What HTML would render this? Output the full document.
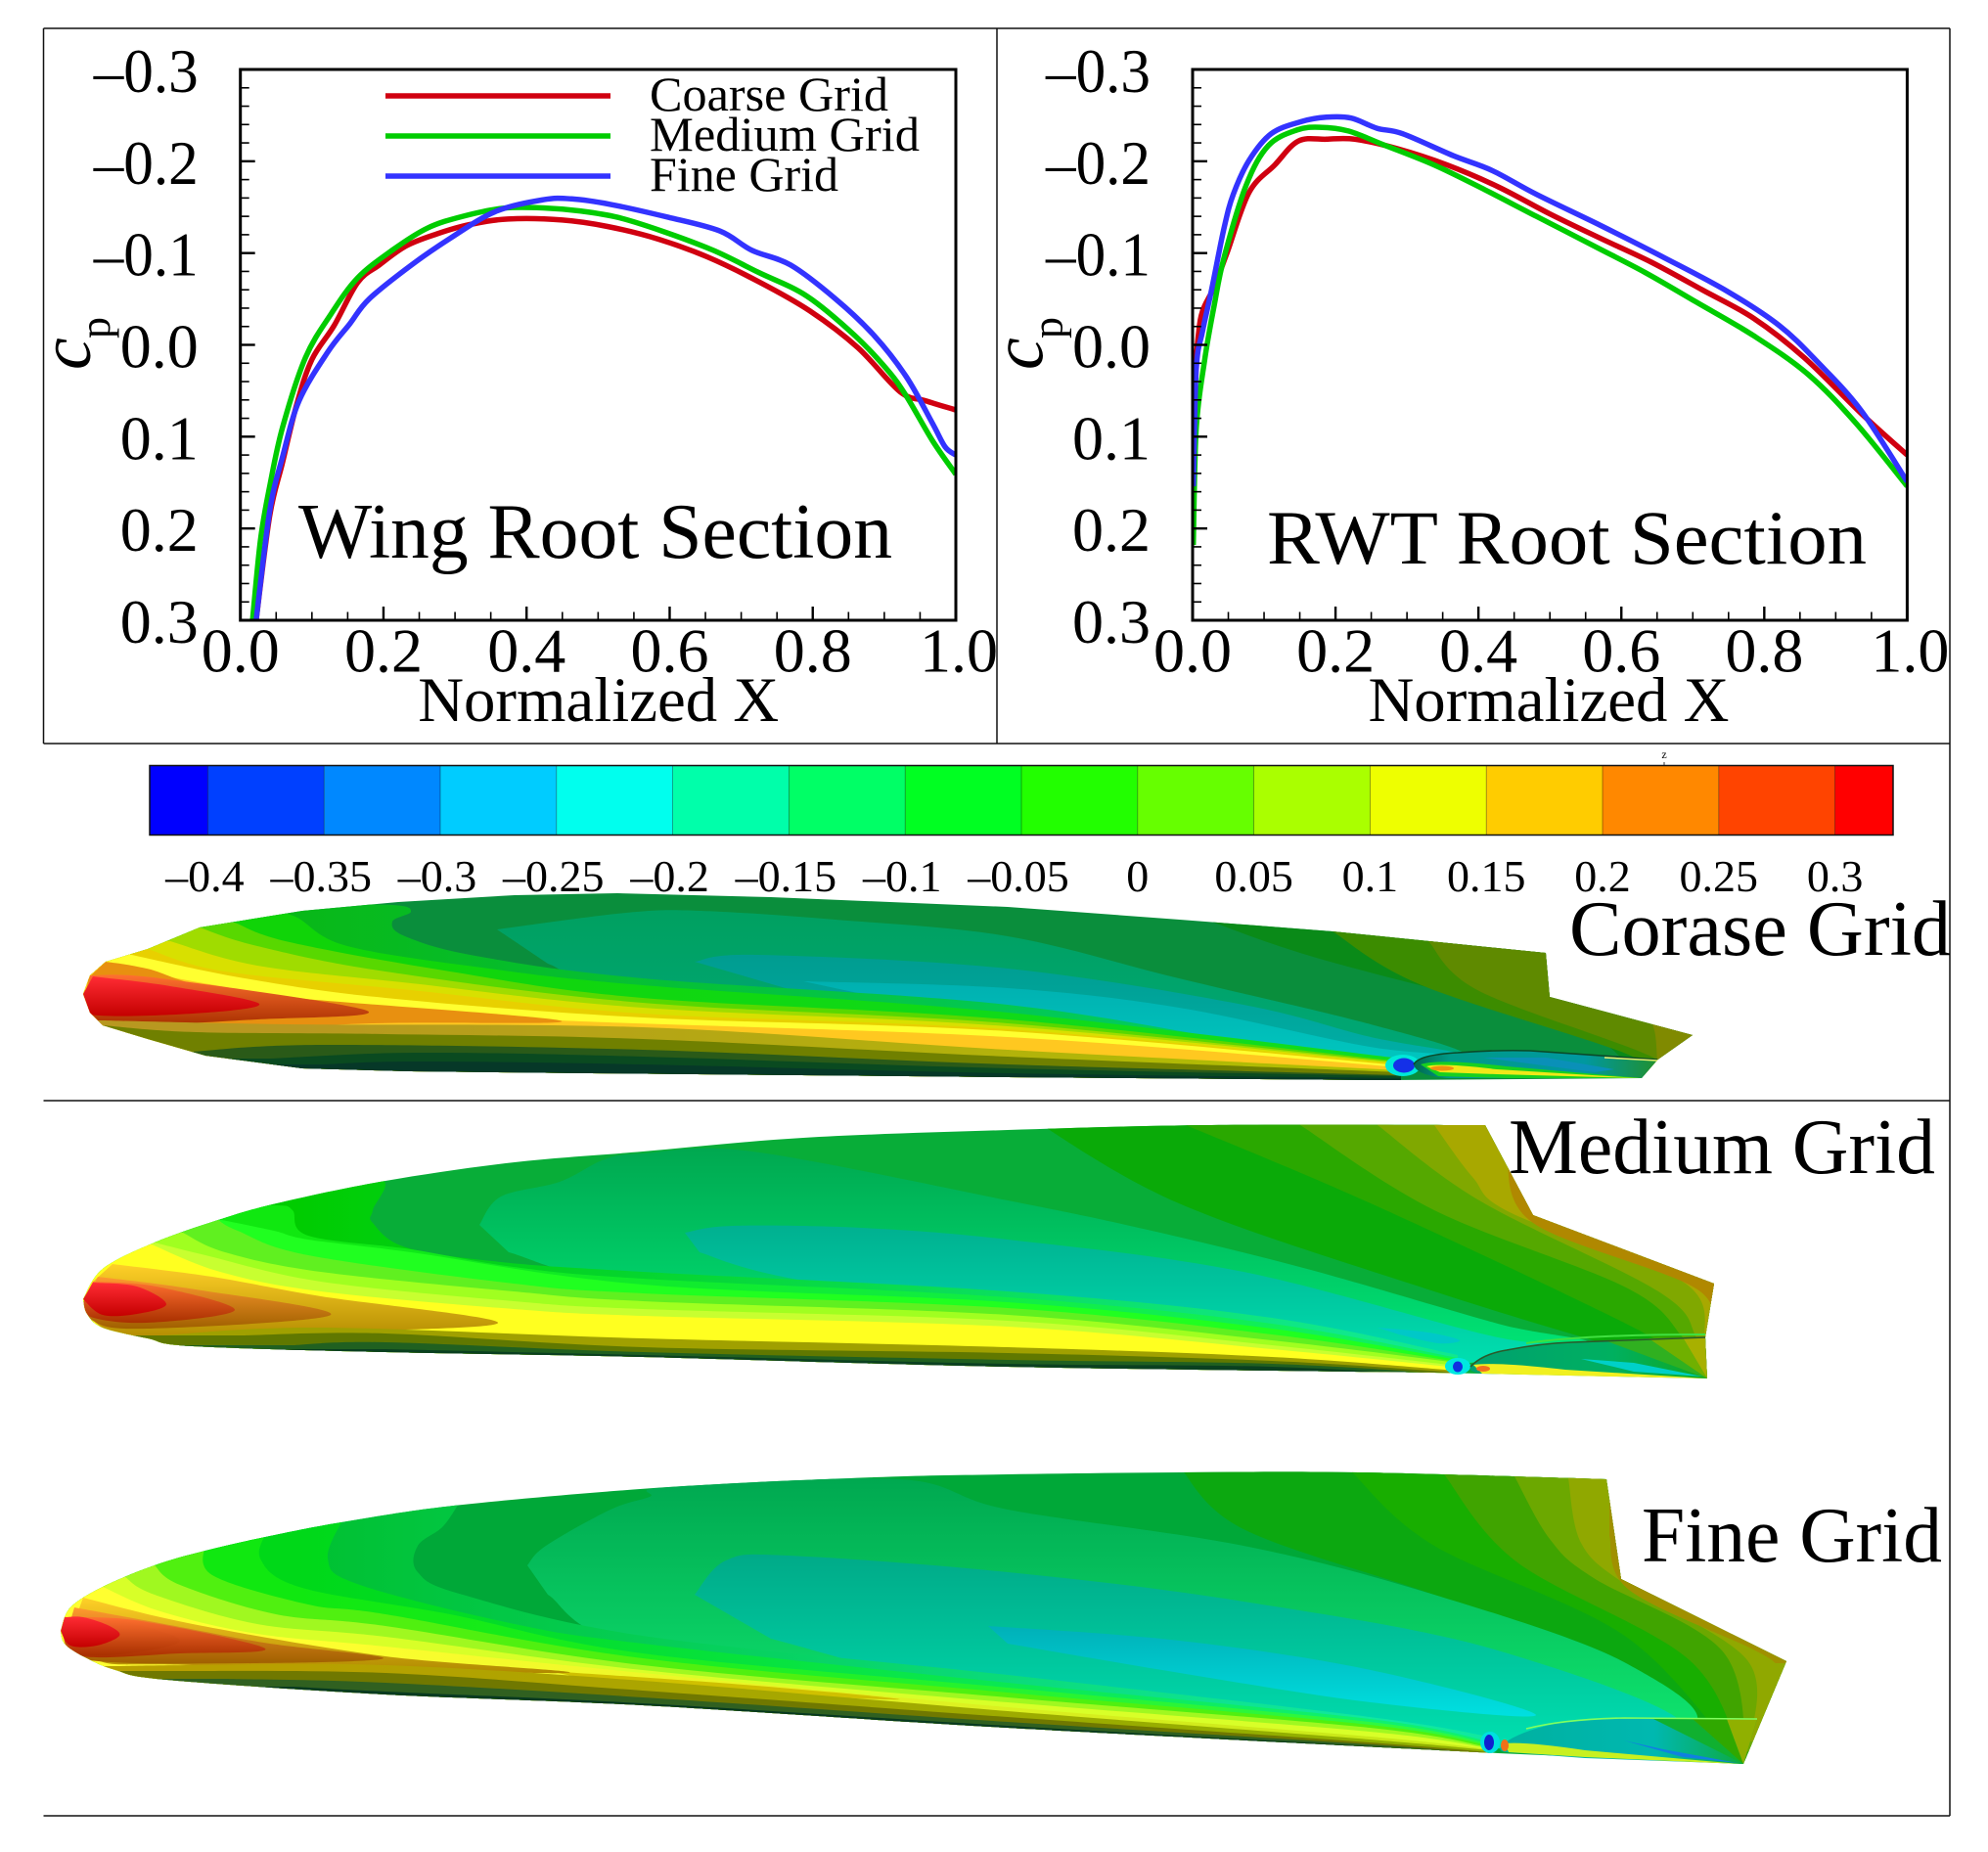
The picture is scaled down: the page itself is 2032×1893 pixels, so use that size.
<!DOCTYPE html>
<html lang="en">
<head>
<meta charset="utf-8">
<title>Wing pressure comparison across grids</title>
<style>
html,body{margin:0;padding:0;background:#fff;width:2032px;height:1893px;overflow:hidden;}
svg{display:block;}
text{font-family:"Liberation Serif",serif;fill:#000;}
</style>
</head>
<body>
<svg id="figure" xmlns="http://www.w3.org/2000/svg" width="2032" height="1893" viewBox="0 0 2032 1893">
<defs id="figureDefs">
<linearGradient id="gRed" x1="0" y1="0" x2="0" y2="1"><stop offset="0" stop-color="#ff2c34"/><stop offset="1" stop-color="#c40000"/></linearGradient>
<linearGradient id="gOr1" x1="0" y1="0" x2="0" y2="1"><stop offset="0" stop-color="#ff7030"/><stop offset="1" stop-color="#a83000"/></linearGradient>
<linearGradient id="gOr2" x1="0" y1="0" x2="0" y2="1"><stop offset="0" stop-color="#ff9a30"/><stop offset="1" stop-color="#a06000"/></linearGradient>
<linearGradient id="gOr3" x1="0" y1="0" x2="0" y2="1"><stop offset="0" stop-color="#ffd028"/><stop offset="1" stop-color="#b08a00"/></linearGradient>
<linearGradient id="gPodC" x1="0" y1="0" x2="1" y2="0"><stop offset="0" stop-color="#006a50"/><stop offset=".15" stop-color="#009a88"/><stop offset=".7" stop-color="#0098a0"/><stop offset="1" stop-color="#209030"/></linearGradient>
<linearGradient id="gPodM" x1="0" y1="0" x2="1" y2="0"><stop offset="0" stop-color="#00a070"/><stop offset=".6" stop-color="#00b060"/><stop offset="1" stop-color="#10a820"/></linearGradient>
<linearGradient id="gPodF" x1="0" y1="0" x2="1" y2="0"><stop offset="0" stop-color="#00b0a0"/><stop offset=".6" stop-color="#00b8b0"/><stop offset="1" stop-color="#10a830"/></linearGradient>
</defs>
<rect x="0" y="0" width="2032" height="1893" fill="#fff"/>

<g id="wingCoarse"></g>
<g>
  <ellipse cx="1434" cy="1089" rx="18" ry="11" fill="#00e8d8"/>
  <ellipse cx="1435" cy="1089" rx="11" ry="7.5" fill="#1430e8"/>
  <path d="M1445,1088 Q1450,1078 1490,1076 Q1530,1073 1564,1074 L1694,1083 L1678,1102 L1479,1102 Q1447,1099 1445,1088 Z" fill="url(#gPodC)"/>
  <path d="M1516,1081 L1580,1081 L1650,1093 L1630,1096 Z" fill="#0a90b8"/>
  <path d="M1452,1088 Q1470,1082 1540,1090 L1678,1102 L1540,1102 L1470,1100 Z" fill="#18d020"/>
  <path d="M1458,1090 Q1470,1086 1530,1093 L1676,1102 L1530,1098 L1472,1096 Z" fill="#f0e818"/>
  <ellipse cx="1474" cy="1092" rx="12" ry="2.5" fill="#f09010"/>
  <path d="M1445,1088 Q1450,1078 1490,1076 Q1530,1073 1564,1074 L1694,1083" fill="none" stroke="#0a4a28" stroke-width="1.6"/>
  <path d="M1640,1081 L1694,1084" fill="none" stroke="#e8f070" stroke-width="1.5"/>
</g>

<g id="wingMedium"></g>
<g>
  <ellipse cx="1490" cy="1396.5" rx="13" ry="8.5" fill="#00e8e0"/>
  <ellipse cx="1490" cy="1397" rx="5" ry="5.5" fill="#1030e0"/>
  <path d="M1503,1397 Q1515,1384 1540,1380 Q1575,1373 1607,1372 L1743,1367 L1745,1409 L1620,1405 L1515,1404 Q1500,1402 1503,1397 Z" fill="url(#gPodM)"/>
  <path d="M1745,1409 L1640,1370 L1685,1368 Z" fill="#30b020"/>
  <path d="M1745,1409 L1685,1368 L1720,1367 Z" fill="#70b000"/>
  <path d="M1745,1409 L1720,1367 L1743,1367 Z" fill="#a8b000"/>
  <path d="M1616,1389 L1670,1393 L1740,1407 L1670,1402 Z" fill="#00d0c8"/>
  <path d="M1506,1395 Q1530,1392 1600,1400 L1745,1409 L1600,1406 L1515,1404 Z" fill="#f0f020"/>
  <ellipse cx="1516" cy="1399" rx="7" ry="3" fill="#f07020"/>
  <path d="M1560,1373 Q1620,1364 1743,1364" fill="none" stroke="#40e040" stroke-width="2"/>
  <path d="M1503,1397 Q1515,1384 1540,1380 Q1575,1373 1607,1372 L1743,1367" fill="none" stroke="#2a5a2a" stroke-width="1.6"/>
</g>

<g id="wingFine"></g>
<g>
  <ellipse cx="1523" cy="1781" rx="10" ry="11" fill="#00e0e0"/>
  <ellipse cx="1522" cy="1781" rx="5" ry="8" fill="#1020d0"/>
  <path d="M1535,1784 Q1550,1770 1597,1760 Q1640,1755 1796,1757 L1782,1803 L1620,1797 L1540,1791 Q1530,1790 1535,1784 Z" fill="url(#gPodF)"/>
  <path d="M1782,1803 L1690,1757 L1730,1757 Z" fill="#10b030"/>
  <path d="M1782,1803 L1730,1757 L1765,1757 Z" fill="#30a800"/>
  <path d="M1782,1803 L1765,1757 L1796,1757 Z" fill="#90b000"/>
  <path d="M1538,1782 Q1560,1780 1620,1789 L1778,1803 L1620,1796 L1542,1791 Z" fill="#c8f020"/>
  <path d="M1660,1779 L1700,1788 L1776,1802 L1720,1796 Z" fill="#1080e0"/>
  <ellipse cx="1538" cy="1784" rx="4" ry="6" fill="#f07018"/>
  <path d="M1560,1767 Q1600,1757 1660,1756 L1796,1757" fill="none" stroke="#80ff60" stroke-width="1.6"/>
</g>

<g stroke="#111" stroke-width="1.5">
  <line x1="44.5" y1="29" x2="1993" y2="29"/>
  <line x1="44.5" y1="29" x2="44.5" y2="760"/>
  <line x1="1019" y1="29" x2="1019" y2="760"/>
  <line x1="1993" y1="29" x2="1993" y2="1856"/>
  <line x1="44.5" y1="760" x2="1993" y2="760"/>
  <line x1="44.5" y1="1125" x2="1993" y2="1125"/>
  <line x1="44.5" y1="1856" x2="1993" y2="1856"/>
</g>

<g id="chartLeft"></g>
<g id="chartRight"></g>
<g id="colorbar"></g>

<g>
  <line x1="394" y1="98" x2="624" y2="98" stroke="#d00010" stroke-width="5.5"/>
  <line x1="394" y1="139" x2="624" y2="139" stroke="#00cc00" stroke-width="5.5"/>
  <line x1="394" y1="180" x2="624" y2="180" stroke="#3333ff" stroke-width="5.5"/>
  <text x="664" y="113" font-size="50" textLength="244" lengthAdjust="spacingAndGlyphs">Coarse Grid</text>
  <text x="664" y="154" font-size="50" textLength="276" lengthAdjust="spacingAndGlyphs">Medium Grid</text>
  <text x="664" y="195" font-size="50" textLength="193" lengthAdjust="spacingAndGlyphs">Fine Grid</text>
</g>

<text x="305" y="570" font-size="80" textLength="607" lengthAdjust="spacingAndGlyphs">Wing Root Section</text>
<text x="1295" y="576" font-size="78" textLength="613" lengthAdjust="spacingAndGlyphs">RWT Root Section</text>
<text x="1604" y="976" font-size="81" textLength="390" lengthAdjust="spacingAndGlyphs">Corase Grid</text>
<text x="1542" y="1199" font-size="81" textLength="436" lengthAdjust="spacingAndGlyphs">Medium Grid</text>
<text x="1678" y="1596" font-size="81" textLength="307" lengthAdjust="spacingAndGlyphs">Fine Grid</text>
</svg>

<script>
// ---- Chart data: Wing Root Section ----
const wingCoarseX=[.022,.041,.059,.079,.100,.131,.164,.194,.232,.275,.320,.374,.450,.513,.585,.652,.724,.796,.863,.922,.958,1.0];
const wingCoarseCp=[.300,.186,.128,.064,.016,-.021,-.068,-.087,-.108,-.121,-.131,-.137,-.136,-.129,-.115,-.096,-.069,-.037,.003,.051,.061,.071];
const wingMediumX=[.017,.028,.041,.059,.091,.127,.164,.212,.261,.311,.369,.428,.473,.527,.589,.661,.724,.792,.859,.904,.931,.967,1.0];
const wingMediumCp=[.300,.213,.154,.090,.014,-.034,-.073,-.103,-.127,-.140,-.149,-.149,-.146,-.139,-.124,-.103,-.079,-.053,-.010,.027,.056,.104,.141];
const wingFineX=[.022,.041,.059,.082,.122,.153,.180,.239,.293,.356,.423,.463,.517,.598,.670,.715,.769,.832,.886,.931,.967,.985,1.0];
const wingFineCp=[.300,.181,.122,.061,.008,-.023,-.050,-.087,-.116,-.145,-.158,-.159,-.153,-.139,-.124,-.103,-.087,-.050,-.010,.035,.085,.111,.120];
// ---- Chart data: RWT Root Section ----
const rwtCoarseX=[.002,.008,.014,.030,.048,.079,.115,.148,.187,.227,.285,.356,.428,.499,.571,.642,.713,.785,.856,.936,1.0];
const rwtCoarseCp=[.043,-.010,-.037,-.063,-.100,-.166,-.196,-.222,-.224,-.224,-.214,-.196,-.172,-.143,-.116,-.090,-.060,-.029,.014,.075,.120];
const rwtMediumX=[.001,.005,.017,.030,.044,.075,.106,.146,.178,.218,.267,.338,.409,.481,.561,.633,.704,.785,.861,.928,1.0];
const rwtMediumCp=[.218,.091,.016,-.042,-.095,-.174,-.217,-.234,-.237,-.233,-.218,-.196,-.169,-.140,-.108,-.079,-.047,-.010,.032,.085,.154];
const rwtFineX=[.001,.005,.014,.026,.044,.057,.079,.110,.151,.187,.222,.258,.294,.365,.419,.481,.571,.660,.749,.821,.875,.936,1.0];
const rwtFineCp=[.154,.027,-.015,-.058,-.127,-.164,-.201,-.230,-.243,-.248,-.247,-.236,-.230,-.206,-.190,-.164,-.130,-.095,-.058,-.021,.019,.072,.149];
// ---- Axis ticks ----
const xTickValues=[0,.2,.4,.6,.8,1];
const xTickLabels=["0.0","0.2","0.4","0.6","0.8","1.0"];
const yTickValues=[-.3,-.2,-.1,0,.1,.2,.3];
const yTickLabels=["–0.3","–0.2","–0.1","0.0","0.1","0.2","0.3"];
// ---- Colour bar ----
const colorbarLevels=[-.4,-.35,-.3,-.25,-.2,-.15,-.1,-.05,0,.05,.1,.15,.2,.25,.3];
const colorbarLabels=["–0.4","–0.35","–0.3","–0.25","–0.2","–0.15","–0.1","–0.05","0","0.05","0.1","0.15","0.2","0.25","0.3"];
const colorbarColors=["#0000ff","#0040ff","#0088ff","#00ccff","#00ffee","#00ffaa","#00ff66","#00ff22","#22ff00","#66ff00","#aaff00","#eeff00","#ffcc00","#ff8800","#ff4400","#ff0000"];

const NS="http://www.w3.org/2000/svg";
function mk(parent,tag,attrs){
  const el=document.createElementNS(NS,tag);
  for(const k in attrs){el.setAttribute(k,attrs[k]);}
  parent.appendChild(el);
  return el;
}
function smooth(p){
  let d='';
  for(let i=0;i<p.length-1;i++){
    const a=p[Math.max(i-1,0)],b=p[i],c=p[i+1],e=p[Math.min(i+2,p.length-1)];
    d+='C'+(b[0]+(c[0]-a[0])/6).toFixed(1)+','+(b[1]+(c[1]-a[1])/6).toFixed(1)+' '+(c[0]-(e[0]-b[0])/6).toFixed(1)+','+(c[1]-(e[1]-b[1])/6).toFixed(1)+' '+c[0]+','+c[1];
  }
  return d;
}
function yScale(v){return 71+(v+.3)/.6*563;}

function drawChart(g,left,width,prefix,titleOffset,series){
  const xScale=v=>left+v*width;
  const clipId=prefix+'-clip';
  const clip=mk(g,'clipPath',{id:clipId});
  
  
  const cr=mk(clip,'rect',{x:left,y:71,width:width,height:563});
  
  
  series.forEach(s=>{
    const pts=s.x.map((v,i)=>[+xScale(v).toFixed(1),+yScale(s.y[i]).toFixed(1)]);
    const line=mk(g,'path',{d:'M'+pts[0][0]+','+pts[0][1]+smooth(pts),fill:'none',stroke:s.color,'stroke-width':5.5,'stroke-linejoin':'round','clip-path':'url(#'+clipId+')'});
    
    
  });
  const frame=mk(g,'rect',{x:left,y:71,width:width,height:563,fill:'none',stroke:'#000','stroke-width':3});
  
  
  for(let i=0;i<=20;i++){
    const major=i%4===0;
    const px=xScale(i*.05);
    const t=mk(g,'line',{x1:px,x2:px,y1:634,y2:major?620:625.5,stroke:'#000','stroke-width':major?2.4:1.6});
    
    
  }
  for(let i=0;i<=30;i++){
    const major=i%5===0;
    const py=yScale(-.3+i*.02);
    const t=mk(g,'line',{x1:left,x2:left+(major?15:9),y1:py,y2:py,stroke:'#000','stroke-width':major?2.4:1.6});
    
    
  }
  xTickValues.forEach((v,i)=>{
    const t=mk(g,'text',{x:xScale(v)+(v===1?3:0),y:686.5,'font-size':64,'text-anchor':'middle'});
    t.textContent=xTickLabels[i];
    
    
  });
  yTickValues.forEach((v,i)=>{
    const t=mk(g,'text',{x:left-43,y:yScale(v)+23,'font-size':64,'text-anchor':'end'});
    if(v<0){t.setAttribute('textLength','107');t.setAttribute('lengthAdjust','spacingAndGlyphs');}
    t.textContent=yTickLabels[i];
    
    
  });
  const xt=mk(g,'text',{x:left+titleOffset,y:737,'font-size':65,textLength:369,lengthAdjust:'spacingAndGlyphs'});
  xt.textContent='Normalized X';
  
  
  const yc=mk(g,'text',{transform:'translate('+(left-153.7)+',378) rotate(-90)','font-size':74,'font-style':'italic'});
  yc.textContent='c';
  
  
  const yp=mk(g,'text',{transform:'translate('+(left-133.7)+',346) rotate(-90)','font-size':44});
  yp.textContent='p';
  
  
}

drawChart(document.getElementById('chartLeft'),245.7,731.3,'wing-root',181.5,[
  {name:'coarse',color:'#d00010',x:wingCoarseX,y:wingCoarseCp},
  {name:'medium',color:'#00cc00',x:wingMediumX,y:wingMediumCp},
  {name:'fine',color:'#3333ff',x:wingFineX,y:wingFineCp}
]);
drawChart(document.getElementById('chartRight'),1219,730.4,'rwt-root',179.5,[
  {name:'coarse',color:'#d00010',x:rwtCoarseX,y:rwtCoarseCp},
  {name:'medium',color:'#00cc00',x:rwtMediumX,y:rwtMediumCp},
  {name:'fine',color:'#3333ff',x:rwtFineX,y:rwtFineCp}
]);

// Colour bar
(function(){
  const g=document.getElementById('colorbar');
  const cbX=v=>153+(v+.425)*(1782/.75);
  const edges=[-.425].concat(colorbarLevels,[.325]);
  colorbarColors.forEach((c,i)=>{
    const x0=cbX(edges[i]),x1=cbX(edges[i+1]);
    const r=mk(g,'rect',{x:x0,y:782.5,width:x1-x0,height:71,fill:c});
    
    
  });
  colorbarLevels.forEach(v=>{
    const l=mk(g,'line',{x1:cbX(v),x2:cbX(v),y1:782.5,y2:853.5,stroke:'#000','stroke-width':.7,'stroke-opacity':.5});
    
    
  });
  const o=mk(g,'rect',{x:153,y:782.5,width:1782,height:71,fill:'none',stroke:'#111','stroke-width':1.5});
  
  
  colorbarLevels.forEach((v,i)=>{
    const t=mk(g,'text',{x:cbX(v)-(v<0?3:0),y:911,'font-size':46,'text-anchor':'middle'});
    t.textContent=colorbarLabels[i];
    
    
  });
  const z=mk(g,'text',{x:1701,y:775,'font-size':12,'text-anchor':'middle'});
  z.textContent='z';
  
  
  const zt=mk(g,'line',{x1:1701,x2:1701,y1:779,y2:782,stroke:'#333','stroke-width':1});
  
  
})();

// Wing contour illustrations
let gradCount=0;
function shapeFill(s){
  if(s.c) return s.c;
  const id='band-grad-'+(++gradCount);
  const defs=document.getElementById('figureDefs');
  const colors=s.v||s.h;
  const attrs=s.v?{id:id,x1:0,y1:0,x2:0,y2:1}:{id:id,gradientUnits:'userSpaceOnUse',x1:300,y1:0,x2:1400,y2:0};
  const gr=mk(defs,'linearGradient',attrs);
  
  
  mk(gr,'stop',{offset:0,'stop-color':colors[0]});
  mk(gr,'stop',{offset:1,'stop-color':colors[1]});
  return 'url(#'+id+')';
}
function shapePath(s){
  const p=s.p,f=p[0],l=p[p.length-1];
  let d='M'+f[0]+','+f[1]+smooth(p);
  if(s.m==='left') d+='L'+l[0]+',1890L0,1890L0,'+f[1]+'Z';
  else if(s.m==='right') d+='L2030,'+l[1]+'L2030,'+(f[1]-120)+'L'+f[0]+','+(f[1]-120)+'Z';
  else d+='Z';
  return d;
}
function drawWing(id,prefix,outline,base,shapes){
  const g=document.getElementById(id);
  const cp=mk(g,'clipPath',{id:prefix+'-outline'});
  
  
  const op=mk(cp,'path',{d:outline});
  
  
  const inner=mk(g,'g',{'clip-path':'url(#'+prefix+'-outline)'});
  
  
  const b=mk(inner,'rect',{x:0,y:800,width:2032,height:1093,fill:base});
  
  
  shapes.forEach(s=>{
    const el=mk(inner,'path',{d:shapePath(s),fill:shapeFill(s)});
    
    
  });
}

// Coarse wing
drawWing('wingCoarse','coarse-wing',
 'M85,1016L92,997L108,983L151,970L204,948L309,931L407,922L526,915L631,913L788,917L1030,927L1206,940L1362,952L1580,974L1584,1019L1730,1058L1694.5,1083L1678,1102L1421,1104L1030,1101L604,1097L420,1095L309,1092L210,1079L151,1062L105,1048L92,1035Z',
 '#0a8e3c',[
 {m:'right',c:'#0a8a18',p:[[1238,942],[1349,980],[1597,1047],[1662,1085]]},
 {m:'right',c:'#3c8c00',p:[[1362,952],[1453,1007],[1662,1077],[1680,1100]]},
 {m:'right',c:'#5f8a00',p:[[1460,962],[1512,1013],[1688,1080],[1690,1100]]},
 {m:'right',c:'#808a00',p:[[1680,1030],[1691,1053],[1694,1085]]},
 {v:['#00a060','#00a878'],p:[[508,950],[640,933],[716,931],[854,940],[1030,957],[1205,1000],[1401,1047],[1500,1080],[1400,1090],[1030,1045],[657,1015],[560,985]]},
 {v:['#009c90','#00b0a8'],p:[[710,983],[775,976],[1030,990],[1271,1027],[1401,1060],[1500,1080],[1400,1090],[1030,1045],[820,1015]]},
 {v:['#00b0b0','#00c8c0'],p:[[821,1003],[1030,1010],[1205,1030],[1400,1070],[1500,1080],[1400,1090],[1030,1045],[900,1020]]},
 {m:'left',h:['#08b818','#00d070'],p:[[300,925],[401,925],[420,932],[401,942],[414,957],[486,977],[657,1000],[1030,1027],[1300,1070],[1432,1086]]},
 {m:'left',h:['#10d408','#10dd20'],p:[[270,930],[302,937],[355,967],[500,990],[657,1007],[1030,1035],[1432,1082]]},
 {m:'left',c:'#58d800',p:[[240,943],[296,963],[460,993],[657,1020],[1030,1042],[1432,1085]]},
 {m:'left',c:'#a0dc00',p:[[204,948],[263,967],[394,993],[657,1025],[1030,1046],[1432,1086]]},
 {m:'left',c:'#d8e000',p:[[174,962],[263,987],[420,1005],[657,1030],[1030,1049],[1432,1087]]},
 {m:'left',c:'#e8d000',p:[[151,970],[230,993],[420,1012],[657,1036],[1030,1052],[1432,1088]]},
 {m:'left',c:'#ffff30',p:[[130,975],[250,1000],[394,1020],[657,1040],[1030,1054],[1432,1089]]},
 {m:'left',c:'#ffc820',p:[[100,985],[250,1012],[394,1030],[572,1043],[1030,1060],[1432,1091]]},
 {c:'#e89010',p:[[108,983],[150,990],[250,1015],[572,1043],[380,1046],[150,1056],[92,1040],[90,1000]]},
 {c:'url(#gOr1)',p:[[92,997],[164,1000],[375,1033],[263,1042],[105,1047],[90,1020]]},
 {c:'url(#gRed)',p:[[95,998],[174,1008],[265,1026],[197,1036],[92,1037],[85,1016]]},
 {m:'left',h:['#b89820','#b0c000'],p:[[105,1043],[296,1047],[657,1050],[1030,1073],[1432,1094]]},
 {m:'left',c:'#708000',p:[[105,1048],[200,1055],[394,1057],[657,1062],[1030,1080],[1432,1096]]},
 {m:'left',c:'#2a5a18',p:[[197,1075],[329,1068],[657,1073],[1030,1088],[1432,1099]]},
 {m:'left',c:'#0a4a20',p:[[276,1082],[427,1076],[657,1080],[1030,1092],[1432,1100]]},
 {m:'left',c:'#063828',p:[[330,1088],[427,1085],[657,1088],[1030,1097],[1432,1102]]}
 ]);

// Medium wing
drawWing('wingMedium','medium-wing',
 'M85,1328'+smooth([[85,1328],[105,1297],[158,1270],[223,1247],[283,1230],[394,1207],[526,1188],[657,1177],[821,1163],[1030,1155],[1238,1150],[1518,1150]])+'L1567,1242L1752,1312L1743,1367L1745,1409L1466,1403'+smooth([[1466,1403],[1030,1397],[657,1387],[394,1382],[197,1376],[151,1368],[105,1357],[89,1343],[85,1328]])+'Z',
 '#08ad38',[
 {m:'right',c:'#0aaa08',p:[[1049,1140],[1205,1230],[1466,1320],[1662,1380]]},
 {m:'right',c:'#2aa800',p:[[1212,1150],[1401,1230],[1662,1353],[1740,1400]]},
 {m:'right',c:'#55a800',p:[[1329,1150],[1466,1237],[1662,1316],[1720,1367],[1745,1409]]},
 {m:'right',c:'#80a800',p:[[1408,1150],[1512,1227],[1695,1320],[1734,1367],[1745,1409]]},
 {m:'right',c:'#a8a800',p:[[1466,1150],[1505,1203],[1545,1240],[1720,1310],[1743,1367]]},
 {m:'right',c:'#b08800',p:[[1540,1180],[1567,1250],[1735,1318],[1745,1370]]},
 {v:['#00a850','#00e878'],p:[[490,1252],[512,1223],[572,1208],[618,1185],[657,1179],[769,1177],[1030,1227],[1173,1257],[1336,1297],[1531,1353],[1620,1375],[1400,1395],[1030,1345],[657,1315],[520,1280]]},
 {v:['#00b090','#00e0b0'],p:[[700,1260],[749,1253],[880,1255],[1030,1267],[1271,1300],[1531,1367],[1620,1375],[1400,1395],[1030,1345],[800,1305],[715,1280]]},
 {c:'#00c8c8',p:[[1408,1357],[1460,1362],[1492,1370],[1470,1373],[1430,1364]]},
 {m:'left',h:['#00cc00','#10e890'],p:[[283,1220],[388,1205],[381,1237],[381,1250],[415,1275],[512,1290],[657,1300],[1030,1320],[1300,1347],[1490,1385]]},
 {m:'left',h:['#10e810','#10f060'],p:[[227,1232],[283,1232],[299,1237],[315,1263],[420,1277],[525,1295],[657,1307],[1030,1326],[1300,1353],[1490,1388]]},
 {m:'left',c:'#20ff20',p:[[227,1247],[280,1258],[315,1267],[420,1280],[657,1313],[1030,1331],[1300,1358],[1490,1390]]},
 {m:'left',c:'#60f020',p:[[223,1247],[243,1258],[315,1283],[525,1312],[657,1322],[1030,1337],[1300,1364],[1490,1392]]},
 {m:'left',c:'#a0ff20',p:[[187,1260],[230,1280],[328,1300],[525,1320],[657,1330],[1030,1344],[1300,1370],[1490,1393]]},
 {m:'left',c:'#c8ff30',p:[[158,1270],[210,1283],[328,1310],[525,1330],[657,1338],[1030,1350],[1300,1375],[1490,1396]]},
 {m:'left',c:'#ffff20',p:[[155,1272],[225,1300],[328,1320],[525,1338],[657,1345],[1030,1356],[1300,1379],[1490,1398]]},
 {c:'url(#gOr3)',p:[[115,1292],[217,1305],[328,1325],[509,1352],[330,1362],[150,1370],[89,1343],[95,1310]]},
 {c:'url(#gOr2)',p:[[100,1305],[200,1318],[338,1344],[150,1358],[95,1350],[90,1325]]},
 {c:'url(#gOr1)',p:[[95,1310],[160,1315],[240,1339],[150,1352],[90,1345],[87,1325]]},
 {c:'url(#gRed)',p:[[95,1311],[140,1315],[170,1333],[140,1343],[105,1344],[85,1328]]},
 {m:'left',c:'#a0a000',p:[[164,1365],[328,1357],[657,1368],[1030,1377],[1300,1387],[1490,1401]]},
 {m:'left',c:'#607800',p:[[250,1365],[394,1363],[657,1377],[1030,1383],[1300,1391],[1490,1403]]},
 {m:'left',c:'#206020',p:[[300,1375],[394,1372],[657,1382],[1030,1390],[1300,1394],[1490,1405]]},
 {m:'left',c:'#0a4020',p:[[394,1379],[657,1385],[1030,1394],[1300,1397],[1490,1407]]}
 ]);

// Fine wing
drawWing('wingFine','fine-wing',
 'M62,1667'+smooth([[62,1667],[72,1643],[105,1622],[158,1600],[210,1585],[276,1570],[355,1555],[473,1538],[683,1520],[893,1510],[1030,1507],[1206,1505],[1388,1505],[1642,1512]])+'L1657,1614L1826,1698L1782,1803L1531,1792'+smooth([[1531,1792],[1030,1766],[657,1743],[394,1732],[171,1717],[118,1707],[85,1693],[66,1680],[62,1667]])+'Z',
 '#00a838',[
 {m:'right',c:'#0ca810',p:[[1206,1500],[1271,1563],[1466,1630],[1662,1700],[1780,1800]]},
 {m:'right',c:'#18ae00',p:[[1382,1505],[1466,1580],[1662,1673],[1779,1800]]},
 {m:'right',c:'#40a400',p:[[1476,1507],[1551,1597],[1727,1697],[1782,1803]]},
 {m:'right',c:'#6ca800',p:[[1548,1509],[1584,1573],[1629,1613],[1760,1687],[1785,1790]]},
 {m:'right',c:'#90a800',p:[[1603,1511],[1616,1577],[1662,1620],[1786,1697],[1789,1780]]},
 {m:'right',c:'#a09000',p:[[1645,1570],[1665,1625],[1790,1685],[1815,1700]]},
 {v:['#00a850','#10e870'],p:[[539,1600],[558,1580],[624,1543],[664,1530],[683,1520],[920,1512],[1030,1543],[1271,1580],[1466,1630],[1662,1700],[1720,1770],[1400,1785],[1030,1735],[657,1685],[560,1630]]},
 {v:['#00aa88','#00e0b0'],p:[[710,1630],[742,1595],[805,1590],[1030,1607],[1271,1637],[1531,1687],[1720,1770],[1400,1785],[1030,1735],[788,1675]]},
 {v:['#00b0b8','#00e0e0'],p:[[1010,1662],[1206,1677],[1401,1707],[1570,1753],[1401,1740],[1206,1710],[1030,1680]]},
 {m:'left',h:['#00c030','#10e8a0'],p:[[473,1530],[453,1560],[427,1580],[427,1607],[473,1630],[657,1672],[1030,1712],[1400,1755],[1522,1775]]},
 {m:'left',h:['#00d818','#10f070'],p:[[355,1545],[335,1593],[368,1620],[526,1660],[657,1680],[1030,1720],[1400,1757],[1522,1780]]},
 {m:'left',h:['#10e810','#30f840'],p:[[276,1560],[266,1593],[309,1623],[460,1650],[657,1690],[1030,1725],[1400,1760],[1522,1782]]},
 {m:'left',c:'#50f010',p:[[210,1577],[217,1610],[315,1640],[394,1650],[657,1695],[1030,1730],[1400,1763],[1522,1784]]},
 {m:'left',c:'#a0f820',p:[[158,1600],[184,1620],[282,1650],[394,1662],[657,1702],[1030,1735],[1400,1766],[1522,1786]]},
 {m:'left',c:'#d8ff28',p:[[128,1612],[158,1630],[263,1660],[394,1673],[657,1707],[1030,1740],[1400,1770],[1522,1787]]},
 {m:'left',h:['#ffff30','#c8e818'],p:[[105,1622],[164,1647],[263,1670],[394,1683],[657,1710],[1030,1745],[1400,1775],[1522,1788]]},
 {c:'#d0c000',p:[[560,1708],[760,1722],[920,1737],[760,1730],[600,1716]]},
 {c:'url(#gOr3)',p:[[85,1633],[197,1660],[394,1693],[578,1710],[197,1702],[99,1697],[75,1660]]},
 {c:'url(#gOr2)',p:[[76,1643],[184,1663],[276,1680],[392,1695],[263,1700],[92,1697],[68,1670]]},
 {c:'url(#gOr1)',p:[[69,1653],[145,1657],[271,1685],[184,1690],[85,1693],[64,1670]]},
 {c:'url(#gOr1)',p:[[85,1653],[131,1658],[184,1677],[131,1690],[76,1690],[64,1670]]},
 {c:'url(#gRed)',p:[[66,1653],[85,1653],[112,1662],[122,1672],[99,1682],[72,1682],[62,1667]]},
 {m:'left',h:['#b8a000','#90b000'],p:[[118,1703],[197,1702],[394,1702],[657,1718],[1030,1749],[1400,1778],[1522,1789]]},
 {m:'left',c:'#707800',p:[[171,1708],[394,1710],[657,1728],[1030,1755],[1400,1781],[1522,1791]]},
 {m:'left',c:'#306020',p:[[230,1716],[394,1720],[657,1735],[1030,1760],[1400,1783],[1522,1793]]},
 {m:'left',c:'#083a20',p:[[300,1724],[394,1729],[657,1741],[1030,1764],[1400,1785],[1522,1795]]}
 ]);
</script>
</body>
</html>
